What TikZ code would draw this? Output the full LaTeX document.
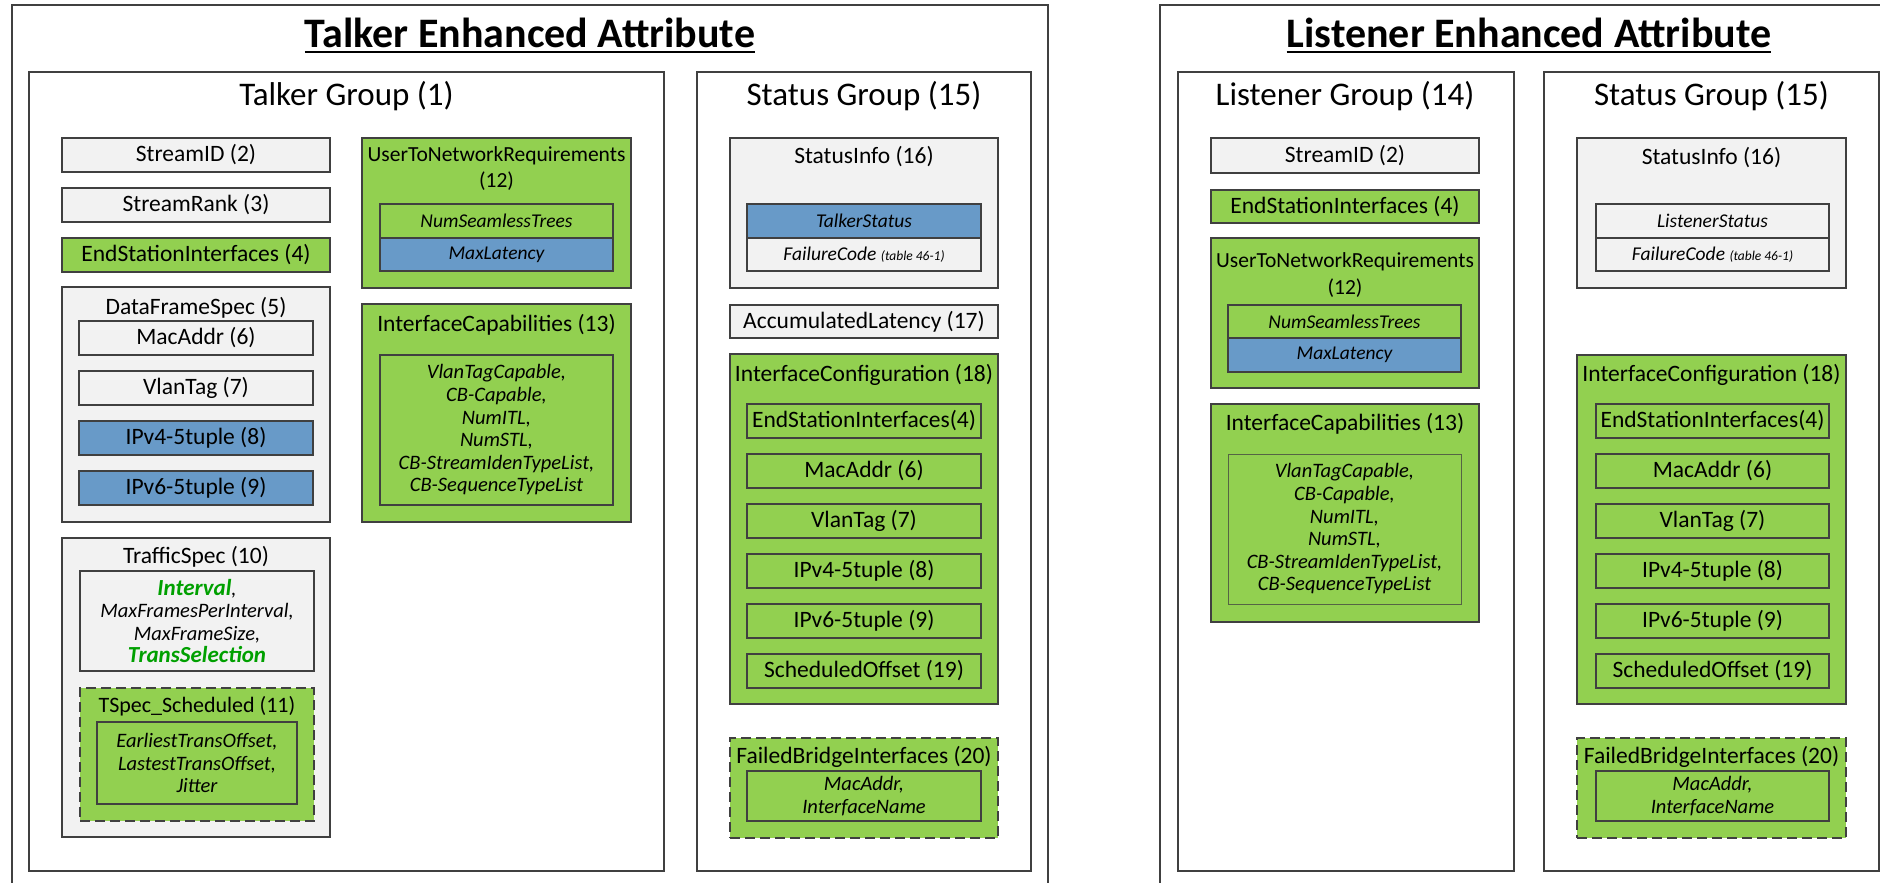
\documentclass[tikz,border=0pt]{standalone}
\usepackage{fontspec}
\setmainfont{Carlito}

\newcommand\attrfont{\fontsize{42}{48}\selectfont\bfseries}
\newcommand\groupfont{\fontsize{33}{38}\selectfont}
\newcommand\fieldfont{\fontsize{23.5}{27}\selectfont}
\newcommand\reqfont{\fontsize{21.5}{26.5}\selectfont}
\newcommand\listfont{\fontsize{20.5}{22.6}\selectfont\itshape}
\newcommand\entryfont{\fontsize{19.5}{23}\selectfont\itshape}
\newcommand\notefont{\fontsize{13.5}{15}\selectfont}
\newcommand\hilite[1]{{\fontsize{23}{26}\selectfont\bfseries\color{textGreen}#1}}

\definecolor{lineGray}{HTML}{404040}
\definecolor{fieldGreen}{HTML}{92D050}
\definecolor{fieldBlue}{HTML}{689AC8}
\definecolor{fieldGray}{HTML}{F2F2F2}
\definecolor{textGreen}{HTML}{00A000}

\begin{document}
\begin{tikzpicture}[x=1pt, y=-1pt,
	panel/.style={draw=lineGray, line width=2pt, inner sep=0pt},
	grpbox/.style={draw=lineGray, line width=1.8pt, fill=white, inner sep=0pt},
	graybox/.style={draw=lineGray, line width=1.8pt, fill=fieldGray, inner sep=0pt, font=\fieldfont},
	greenbox/.style={graybox, fill=fieldGreen},
	bluebox/.style={graybox, fill=fieldBlue},
	dashbox/.style={greenbox, dash pattern=on 10pt off 5pt},
	listbox/.style={font=\listfont, align=center},
	heading/.style={anchor=base, inner sep=0pt, font=\fieldfont}]
		\path[use as bounding box, clip] (0,0) rectangle (1880,883);
		
		%Talker's frame
		\node (Talker Frame) at (530,452.5) [panel, minimum width=1036pt, minimum height=895pt]{};
		\node (Talker Title) at (530,48) [anchor=base, inner sep=0pt, font=\attrfont]{Talker Enhanced Attribute};
		\draw[line width=2pt] ([yshift=-4pt]Talker Title.base west) -- ([yshift=-4pt]Talker Title.base east);
		
		%Talker group
		\node (Talker Group) at (346.5,471.5) [grpbox, minimum width=635pt, minimum height=799pt]{};
		\node (Talker Group Title) at (346.5,106) [heading, font=\groupfont]{Talker Group (1)};
		\node (StreamID T) at (196,155) [graybox, minimum width=268pt, minimum height=34pt]{StreamID (2)};
		\node (StreamRank T) at (196,205) [graybox, minimum width=268pt, minimum height=34pt]{StreamRank (3)};
		\node (EndStation T) at (196,255) [greenbox, minimum width=268pt, minimum height=34pt]{EndStationInterfaces (4)};
		
		\node (DataFrameSpec) at (196,404.5) [graybox, minimum width=268pt, minimum height=235pt]{};
		\node (DataFrameSpec Title) at (196,314) [heading]{DataFrameSpec (5)};
		\node (MacAddr T) at (196,338) [graybox, minimum width=234pt, minimum height=34pt]{MacAddr (6)};
		\node (VlanTag T) at (196,388) [graybox, minimum width=234pt, minimum height=34pt]{VlanTag (7)};
		\node (IPv4 T) at (196,438) [bluebox, minimum width=234pt, minimum height=34pt]{IPv4-5tuple (8)};
		\node (IPv6 T) at (196,488) [bluebox, minimum width=234pt, minimum height=34pt]{IPv6-5tuple (9)};
		
		\node (TrafficSpec) at (196,687.5) [graybox, minimum width=268pt, minimum height=299pt]{};
		\node (TrafficSpec Title) at (196,563) [heading]{TrafficSpec (10)};
		\node (TrafficSpec List) at (197,621) [graybox, listbox, minimum width=234pt, minimum height=100pt]
		{\hilite{Interval},\\ MaxFramesPerInterval,\\ MaxFrameSize,\\ \hilite{TransSelection}};
		\node (TSpec Scheduled) at (197,754.5) [dashbox, minimum width=234pt, minimum height=133pt]{};
		\node (TSpec Scheduled Title) at (197,712) [heading, font=\fontsize{22}{26}\selectfont]{TSpec\_Scheduled (11)};
		\node (TSpec Scheduled List) at (197,763) [greenbox, listbox, minimum width=200pt, minimum height=82pt]
		{EarliestTransOffset,\\ LastestTransOffset,\\ Jitter};
		
		\node (UserToNetwork T) at (496.5,213) [greenbox, minimum width=269pt, minimum height=150pt]{};
		\node (UserToNetwork T Title) at (496.5,168.5) [inner sep=0pt, font=\reqfont, align=center]{UserToNetworkRequirements\\(12)};
		\node (NumSeamless T) at (496.5,221) [greenbox, font=\entryfont, minimum width=233pt, minimum height=34pt]{NumSeamlessTrees};
		\node (MaxLatency T) at (496.5,254.5) [bluebox, font=\entryfont, minimum width=233pt, minimum height=33pt]{MaxLatency};
		
		\node (Capabilities T) at (496.5,413) [greenbox, minimum width=269pt, minimum height=218pt]{};
		\node (Capabilities T Title) at (496.5,331) [heading]{InterfaceCapabilities (13)};
		\node (Capabilities T List) at (496.5,430) [greenbox, listbox, minimum width=233pt, minimum height=150pt]
		{VlanTagCapable,\\ CB-Capable,\\ NumITL,\\ NumSTL,\\ CB-StreamIdenTypeList,\\ CB-SequenceTypeList};
		
		%Talker's status group
		\node (Status T) at (864,471.5) [grpbox, minimum width=334pt, minimum height=799pt]{};
		\node (Status T Title) at (864,106) [heading, font=\groupfont]{Status Group (15)};
		\node (StatusInfo T) at (864,213) [graybox, minimum width=268pt, minimum height=150pt]{};
		\node (StatusInfo T Title) at (864,163) [heading]{StatusInfo (16)};
		\node (TalkerStatus) at (864,221) [bluebox, font=\entryfont, minimum width=234pt, minimum height=34pt]{TalkerStatus};
		\node (FailureCode T) at (864,254.5) [graybox, font=\entryfont, minimum width=234pt, minimum height=33pt]{FailureCode {\notefont(table 46-1)}};
		\node (AccLatency) at (864,321.5) [graybox, minimum width=268pt, minimum height=33pt]{AccumulatedLatency (17)};
		
		\node (IfConfig T) at (864,529) [greenbox, minimum width=268pt, minimum height=350pt]{};
		\node (IfConfig T Title) at (864,381) [heading]{InterfaceConfiguration (18)};
		\foreach \y/\name/\txt in {421/ESI/EndStationInterfaces(4), 471/Mac/MacAddr (6), 521/Vlan/VlanTag (7),
			571/IPv4/IPv4-5tuple (8), 621/IPv6/IPv6-5tuple (9), 671/Offset/ScheduledOffset (19)}
			\node (IfConfig T \name) at (864,\y) [greenbox, minimum width=234pt, minimum height=34pt]{\txt};
		
		\node (FailedBridge T) at (864,788) [dashbox, minimum width=268pt, minimum height=100pt]{};
		\node (FailedBridge T Title) at (864,763) [heading]{FailedBridgeInterfaces (20)};
		\node (FailedBridge T List) at (864,796) [greenbox, listbox, minimum width=234pt, minimum height=50pt]{MacAddr,\\ InterfaceName};
		
		%Listener's frame
		\node (Listener Frame) at (1530,452.5) [panel, minimum width=740pt, minimum height=895pt]{};
		\node (Listener Title) at (1529,48) [anchor=base, inner sep=0pt, font=\attrfont]{Listener Enhanced Attribute};
		\draw[line width=2pt] ([yshift=-4pt]Listener Title.base west) -- ([yshift=-4pt]Listener Title.base east);
		
		%Listener group
		\node (Listener Group) at (1346,471.5) [grpbox, minimum width=336pt, minimum height=799pt]{};
		\node (Listener Group Title) at (1345,106) [heading, font=\groupfont]{Listener Group (14)};
		\node (StreamID L) at (1345,155.5) [graybox, minimum width=268pt, minimum height=35pt]{StreamID (2)};
		\node (EndStation L) at (1345,206.5) [greenbox, minimum width=268pt, minimum height=33pt]{EndStationInterfaces (4)};
		
		\node (UserToNetwork L) at (1345,313) [greenbox, minimum width=268pt, minimum height=150pt]{};
		\node (UserToNetwork L Title) at (1345,275) [inner sep=0pt, font=\reqfont, align=center]{UserToNetworkRequirements\\(12)};
		\node (NumSeamless L) at (1344.5,321.5) [greenbox, font=\entryfont, minimum width=233pt, minimum height=33pt]{NumSeamlessTrees};
		\node (MaxLatency L) at (1344.5,355) [bluebox, font=\entryfont, minimum width=233pt, minimum height=34pt]{MaxLatency};
		
		\node (Capabilities L) at (1345,513) [greenbox, minimum width=268pt, minimum height=218pt]{};
		\node (Capabilities L Title) at (1345,430) [heading]{InterfaceCapabilities (13)};
		\node (Capabilities L List) at (1344.5,529) [greenbox, listbox, draw=lineGray!75!fieldGreen, line width=0.9pt, minimum width=233pt, minimum height=150pt]
		{VlanTagCapable,\\ CB-Capable,\\ NumITL,\\ NumSTL,\\ CB-StreamIdenTypeList,\\ CB-SequenceTypeList};
		
		%Listener's status group
		\node (Status L) at (1711.5,471.5) [grpbox, minimum width=335pt, minimum height=799pt]{};
		\node (Status L Title) at (1711.5,106) [heading, font=\groupfont]{Status Group (15)};
		\node (StatusInfo L) at (1711.5,213) [graybox, minimum width=269pt, minimum height=150pt]{};
		\node (StatusInfo L Title) at (1711.5,164) [heading]{StatusInfo (16)};
		\node (ListenerStatus) at (1712.5,221) [graybox, font=\entryfont, minimum width=233pt, minimum height=34pt]{ListenerStatus};
		\node (FailureCode L) at (1712.5,254.5) [graybox, font=\entryfont, minimum width=233pt, minimum height=33pt]{FailureCode {\notefont(table 46-1)}};
		
		\node (IfConfig L) at (1711.5,529.5) [greenbox, minimum width=269pt, minimum height=349pt]{};
		\node (IfConfig L Title) at (1711.5,381) [heading]{InterfaceConfiguration (18)};
		\foreach \y/\name/\txt in {421/ESI/EndStationInterfaces(4), 471/Mac/MacAddr (6), 521/Vlan/VlanTag (7),
			571/IPv4/IPv4-5tuple (8), 621/IPv6/IPv6-5tuple (9), 671/Offset/ScheduledOffset (19)}
			\node (IfConfig L \name) at (1712.5,\y) [greenbox, minimum width=233pt, minimum height=34pt]{\txt};
		
		\node (FailedBridge L) at (1711.5,788) [dashbox, minimum width=269pt, minimum height=100pt]{};
		\node (FailedBridge L Title) at (1711.5,763) [heading]{FailedBridgeInterfaces (20)};
		\node (FailedBridge L List) at (1712.5,796) [greenbox, listbox, minimum width=233pt, minimum height=50pt]{MacAddr,\\ InterfaceName};
		
		\end{tikzpicture}
\end{document}
